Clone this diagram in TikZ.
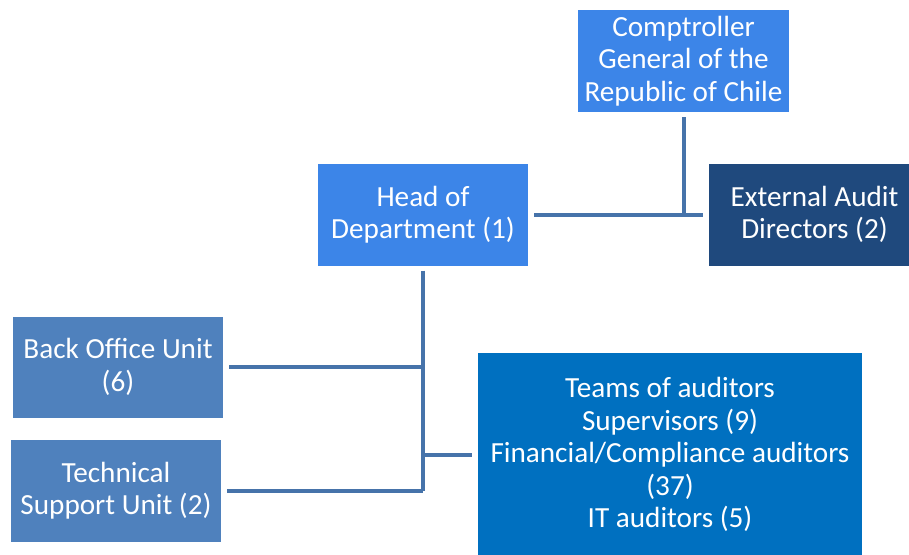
\documentclass[tikz,border=0pt]{standalone}
\usepackage{fontspec}
\setmainfont{Carlito}
\definecolor{compblue}{RGB}{60,133,232}
\definecolor{navy}{RGB}{31,73,125}
\definecolor{steel}{RGB}{79,129,189}
\definecolor{teamblue}{RGB}{0,112,192}
\definecolor{linecol}{RGB}{70,115,170}
\tikzset{
  box/.style={rectangle, draw=none, text=white, align=center, inner sep=0pt,
    font=\fontsize{29.2}{32.5}\selectfont},
  conn/.style={draw=linecol, line width=4pt}
}
\begin{document}
\begin{tikzpicture}[x=1pt,y=-1pt]
\clip (0,0) rectangle (909,554);
\useasboundingbox (0,0) rectangle (909,554);
\node[box, fill=compblue, minimum width=211pt, minimum height=102pt] (comp) at (683.5,61) {Comptroller\\General of the\\Republic of Chile};
\node[box, fill=compblue, minimum width=210pt, minimum height=102pt] (hd) at (423,214.5) {Head of\\Department (1)};
\node[box, fill=navy, minimum width=211pt, minimum height=102pt] (ext) at (814.5,214.5) {External Audit\\Directors (2)};
\node[box, fill=steel, minimum width=210pt, minimum height=101pt] (bo) at (118,367) {Back Office Unit\\(6)};
\node[box, fill=steel, minimum width=210pt, minimum height=102pt] (ts) at (116,490.5) {Technical\\Support Unit (2)};
\node[box, fill=teamblue, minimum width=384pt, minimum height=204pt] (tm) at (670,454.5) {Teams of auditors\\Supervisors (9)\\Financial/Compliance auditors\\(37)\\IT auditors (5)};
\draw[conn] ([xshift=6pt]hd.east) -- ([xshift=-6pt]ext.west);
\draw[conn] ([yshift=-5pt]comp.south) -- (comp.south |- hd.east);
\draw[conn] ([yshift=-5pt]hd.south) -- (hd.south |- ts.east);
\draw[conn] ([xshift=6pt]bo.east) -- (bo.east -| hd.south);
\draw[conn] ([xshift=6pt]ts.east) -- (ts.east -| hd.south);
\draw[conn] ([xshift=-6pt]tm.west) -- (tm.west -| hd.south);
\end{tikzpicture}
\end{document}
